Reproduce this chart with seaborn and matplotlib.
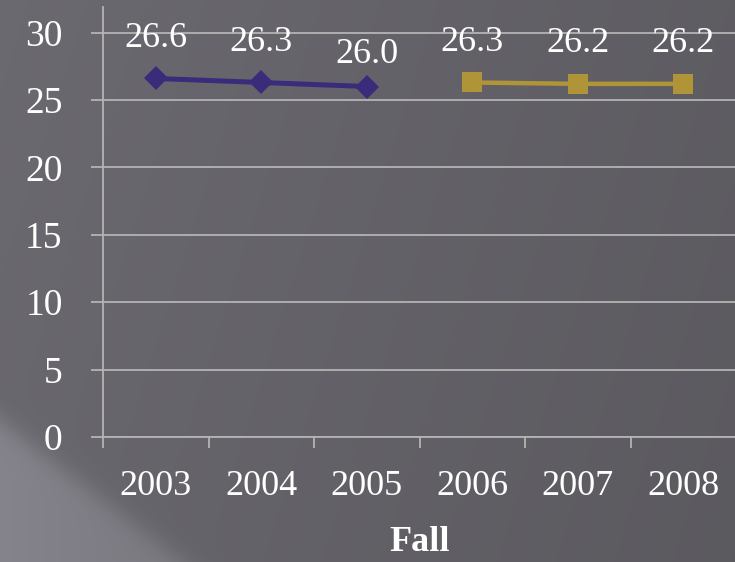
import numpy as np
import pandas as pd
import seaborn as sns
import matplotlib.pyplot as plt

years = ["2003", "2004", "2005", "2006", "2007", "2008"]
early_years = ["2003", "2004", "2005"]
early_vals = [26.6, 26.3, 26.0]
late_years = ["2006", "2007", "2008"]
late_vals = [26.3, 26.2, 26.2]
y_ticks = [0, 5, 10, 15, 20, 25, 30]
# vertical offset (points) of each value label, in plotting order
label_offsets = [29, 29, 23, 29, 29, 29]

sns.set_theme(style="white")
plt.rcParams["font.family"] = ["Liberation Serif", "DejaVu Serif"]

fig = plt.figure(figsize=(7.35, 5.62), dpi=100)

# slide-like gray background with a softer lighter wedge bottom left
bg = fig.add_axes([0, 0, 1, 1], zorder=-10)
h, w = 562, 735
yy, xx = np.mgrid[0:h, 0:w]
v = 0.42 - 0.05 * (xx / w) - 0.012 * (yy / h)
d = (yy - (420 + xx * 142 / 185)) / 8.0
blend = 1 / (1 + np.exp(-d))
wedge_v = 0.52 - 0.04 * (xx / 185)
v = v * (1 - blend) + wedge_v * blend
img = np.dstack([v, v * 0.985, v * 1.045]).clip(0, 1)
bg.imshow(img, aspect="auto", interpolation="bilinear")
bg.axis("off")

ax = fig.add_axes([103 / 735, 125 / 562, 633 / 735, 430 / 562])
ax.set_facecolor("none")

df1 = pd.DataFrame({"pos": [years.index(y) for y in early_years], "val": early_vals})
df2 = pd.DataFrame({"pos": [years.index(y) for y in late_years], "val": late_vals})

sns.lineplot(data=df1, x="pos", y="val", ax=ax, color="#3a2c7a", linewidth=3.6,
             marker="D", markersize=12, markeredgewidth=0)
sns.lineplot(data=df2, x="pos", y="val", ax=ax, color="#b09538", linewidth=3.2,
             marker="s", markersize=14, markeredgewidth=0)

i = 0
for df in (df1, df2):
    for p, val in zip(df["pos"], df["val"]):
        ax.annotate(f"{val:.1f}", (p, val), xytext=(0, label_offsets[i]),
                    textcoords="offset points", ha="center", va="center",
                    color="white", fontsize=26)
        i += 1

ax.set_xlim(-0.5, 5.5)
ax.set_ylim(0, 31.9)
ax.set_yticks(y_ticks)
ax.set_xticks(range(len(years)))
ax.set_xticklabels(years)
ax.set_xticks(np.arange(-0.5, len(years)), minor=True)
ax.yaxis.grid(True, color="#b4b4b4", linewidth=1.3)
ax.xaxis.grid(False)

for s in ["top", "right"]:
    ax.spines[s].set_visible(False)
for s in ["left", "bottom"]:
    ax.spines[s].set_color("#b4b4b4")
    ax.spines[s].set_linewidth(1.3)

ax.tick_params(axis="y", length=9, width=1.3, color="#b4b4b4", labelcolor="white",
               labelsize=27, pad=20, left=True)
ax.tick_params(axis="x", which="major", length=0, labelcolor="white", labelsize=26, pad=24)
ax.tick_params(axis="x", which="minor", length=8, width=1.3, color="#b4b4b4", bottom=True)

ax.set_ylabel("")
ax.set_xlabel("Fall", color="white", fontsize=26, fontweight="bold", va="center")
ax.xaxis.set_label_coords(0.5, -0.2465)

fig.savefig("out.png", dpi=100)
